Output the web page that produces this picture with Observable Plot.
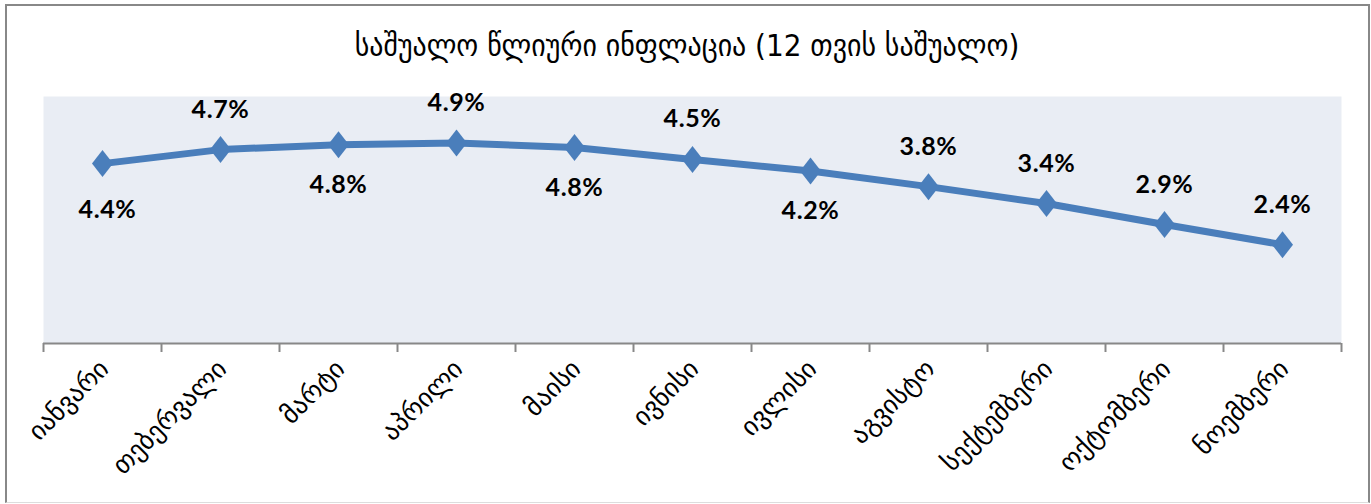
<!DOCTYPE html>
<html>
<head>
<meta charset="utf-8">
<script src="https://cdn.jsdelivr.net/npm/d3@7"></script>
<script src="https://cdn.jsdelivr.net/npm/@observablehq/plot@0.6"></script>
<style>
  html, body { margin: 0; padding: 0; background: #fff; }
  #wrap { position: relative; width: 1371px; height: 504px; overflow: hidden; }
  #title { height: 50px; padding-top: 20px; display: flex; align-items: center; justify-content: center;
           font-family: "DejaVu Sans Condensed", "DejaVu Sans", sans-serif; font-size: 31px; color: #000; padding-left: 3px; }
  #frame { position: absolute; left: 5px; top: 4px; width: 1365px; height: 499px; box-sizing: border-box;
           border-top: 2px solid #888; border-left: 2px solid #888; border-right: 2px solid #888; border-bottom: 1px solid #ddd;
           pointer-events: none; }
  svg { display: block; }
  .vlabel text { letter-spacing: 0.6px; }
</style>
</head>
<body>
<div id="wrap">
  <div id="title">საშუალო წლიური ინფლაცია (12 თვის საშუალო)</div>
  <div id="chart"></div>
  <div id="frame"></div>
</div>
<script>
// Data
const months = ["იანვარი", "თებერვალი", "მარტი", "აპრილი", "მაისი", "ივნისი", "ივლისი", "აგვისტო", "სექტემბერი", "ოქტომბერი", "ნოემბერი"];
const inflation = [4.37, 4.71, 4.83, 4.87, 4.76, 4.47, 4.19, 3.81, 3.40, 2.89, 2.40];
const yTicks = [0, 6];

const rows = months.map((m, i) => ({i, month: m, value: inflation[i], label: inflation[i].toFixed(1) + "%"}));
// indices whose value label sits below the marker
const below = new Set([0, 2, 4, 6]);

const blue = "#4A7EBB";
const diamond = {
  draw(ctx, size) {
    const r = Math.sqrt(size / Math.PI);
    const h = r * 1.35, w = r * 1.05;
    ctx.moveTo(0, -h); ctx.lineTo(w, 0); ctx.lineTo(0, h); ctx.lineTo(-w, 0); ctx.closePath();
  }
};
const labelFont = {fontFamily: "Lato", fontWeight: "bold", fontSize: 25, fill: "#000", className: "vlabel"};

const chart = Plot.plot({
  width: 1371,
  height: 434,
  marginLeft: 43,
  marginRight: 30,
  marginTop: 26,
  marginBottom: 161,
  x: {type: "linear", domain: [0, months.length], axis: null},
  y: {domain: yTicks, axis: null},
  marks: [
    Plot.frame({fill: "#E9EDF4", stroke: "none"}),
    Plot.ruleY([0], {stroke: "#888", strokeWidth: 2}),
    Plot.axisX(d3.range(months.length + 1), {tickSize: 9, tickFormat: () => "", stroke: "#888", strokeWidth: 2}),
    Plot.axisX(d3.range(months.length).map(i => i + 0.5), {
      tickSize: 0, tickPadding: 21, tickRotate: -45, dx: 2,
      tickFormat: v => months[Math.floor(v)],
      fontFamily: "DejaVu Sans", fontSize: 26, fill: "#000"
    }),
    Plot.line(rows, {x: d => d.i + 0.5, y: "value", stroke: blue, strokeWidth: 7, strokeLinejoin: "round"}),
    Plot.dot(rows, {x: d => d.i + 0.5, y: "value", fill: blue, stroke: "none", r: 10, symbol: diamond}),
    Plot.text(rows.filter(d => d.i === 0), {x: d => d.i + 0.5, y: "value", text: "label", dy: 46, dx: 5, ...labelFont}),
    Plot.text(rows.filter(d => below.has(d.i) && d.i !== 0), {x: d => d.i + 0.5, y: "value", text: "label", dy: 40, ...labelFont}),
    Plot.text(rows.filter(d => !below.has(d.i)), {x: d => d.i + 0.5, y: "value", text: "label", dy: -40, ...labelFont})
  ]
});
document.getElementById("chart").appendChild(chart);
</script>
</body>
</html>
